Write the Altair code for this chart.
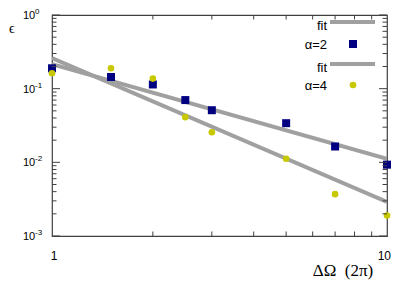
import altair as alt
import pandas as pd

# ---- data ----
omega = [1, 1.5, 2, 2.5, 3, 5, 7, 10]
eps_a2 = [0.189, 0.144, 0.114, 0.070, 0.051, 0.034, 0.0164, 0.0093]
eps_a4 = [0.162, 0.189, 0.137, 0.041, 0.0256, 0.0112, 0.0037, 0.0019]
fit_x = [1, 10]
fit_a2 = [0.215, 0.0112]
fit_a4 = [0.26, 0.0029]

y_major = [0.001, 0.01, 0.1, 1]
y_major_exp = ["-3", "-2", "-1", "0"]
y_minor = [m * d for d in [0.001, 0.01, 0.1] for m in range(2, 10)]
x_minor = [2, 3, 4, 5, 6, 7, 8, 9]
x_label_vals = [1, 10]
x_label_text = ["1", "10"]

W, H = 335, 221
TC = "#404040"
SANS = "Liberation Sans"
SERIF = "Liberation Serif"

xs = alt.Scale(type="log", domain=[1, 10], nice=False)
ys = alt.Scale(type="log", domain=[0.001, 1], nice=False)


def X(f="x"):
    return alt.X(f"{f}:Q", scale=xs, axis=None)


def Y(f="y"):
    return alt.Y(f"{f}:Q", scale=ys, axis=None)


fit_df = pd.DataFrame({
    "x": fit_x + fit_x,
    "y": fit_a2 + fit_a4,
    "s": ["a2"] * 2 + ["a4"] * 2,
})
a2_df = pd.DataFrame({"x": omega, "y": eps_a2})
a4_df = pd.DataFrame({"x": omega, "y": eps_a4})
ymaj_df = pd.DataFrame({"y": y_major, "e": y_major_exp})
ymin_df = pd.DataFrame({"y": y_minor})
xmin_df = pd.DataFrame({"x": x_minor})
xlab1_df = pd.DataFrame({"x": x_label_vals[:1], "t": x_label_text[:1]})
xlab2_df = pd.DataFrame({"x": x_label_vals[1:], "t": x_label_text[1:]})
one = alt.Data(values=[{"a": 1}])

fits = alt.Chart(fit_df).mark_line(color="#a0a0a0", strokeWidth=4, clip=True).encode(
    x=X(), y=Y(), detail="s:N")
sq = alt.Chart(a2_df).mark_square(color="#000080", size=64, opacity=1).encode(x=X(), y=Y())
ci = alt.Chart(a4_df).mark_circle(color="#c8c800", size=44, opacity=1).encode(x=X(), y=Y())

# ticks (inside, mirrored)
tl_maj = alt.Chart(ymaj_df).mark_rule(color=TC, strokeWidth=1).encode(
    y=Y(), x=alt.value(0), x2=alt.value(8))
tr_maj = alt.Chart(ymaj_df).mark_rule(color=TC, strokeWidth=1).encode(
    y=Y(), x=alt.value(W), x2=alt.value(W - 8))
tl_min = alt.Chart(ymin_df).mark_rule(color=TC, strokeWidth=1).encode(
    y=Y(), x=alt.value(0), x2=alt.value(4.5))
tr_min = alt.Chart(ymin_df).mark_rule(color=TC, strokeWidth=1).encode(
    y=Y(), x=alt.value(W), x2=alt.value(W - 4.5))
tb_min = alt.Chart(xmin_df).mark_rule(color=TC, strokeWidth=1).encode(
    x=X(), y=alt.value(H), y2=alt.value(H - 4.5))
tt_min = alt.Chart(xmin_df).mark_rule(color=TC, strokeWidth=1).encode(
    x=X(), y=alt.value(0), y2=alt.value(4.5))

# axis labels
ylab = alt.Chart(ymaj_df).mark_text(text="10", font=SANS, fontSize=11, align="left",
                                    baseline="middle", dy=1, color="#000").encode(
    y=Y(), x=alt.value(-29))
ysup = alt.Chart(ymaj_df).mark_text(font=SANS, fontSize=8, align="left",
                                    baseline="middle", dy=-3, color="#000").encode(
    y=Y(), x=alt.value(-17), text="e:N")
xlab1 = alt.Chart(xlab1_df).mark_text(font=SANS, fontSize=12, align="center", dx=2,
                                      baseline="middle", color="#000").encode(
    x=X(), y=alt.value(241), text="t:N")
xlab2 = alt.Chart(xlab2_df).mark_text(font=SANS, fontSize=12, align="right", dx=4,
                                      baseline="middle", color="#000").encode(
    x=X(), y=alt.value(241), text="t:N")

ytitle = alt.Chart(one).mark_text(text="ϵ", font=SERIF, fontSize=14, align="left",
                                  baseline="middle", color="#000").encode(
    x=alt.value(-43), y=alt.value(14))
xtitle = alt.Chart(one).mark_text(text="ΔΩ\u2002(2π)", font=SERIF, fontSize=17,
                                  align="center", baseline="middle", color="#000").encode(
    x=alt.value(291), y=alt.value(256))

# legend (gnuplot style: label left, sample right)
def ltext(t, y):
    return alt.Chart(one).mark_text(text=t, font=SANS, fontSize=13, align="right",
                                    baseline="middle", color="#000").encode(
        x=alt.value(275), y=alt.value(y))


leg = [
    ltext("fit", 11),
    alt.Chart(one).mark_rule(color="#a0a0a0", strokeWidth=4).encode(
        x=alt.value(278), x2=alt.value(323), y=alt.value(7)),
    ltext("α=2", 30),
    alt.Chart(one).mark_square(color="#000080", size=64, opacity=1).encode(
        x=alt.value(301), y=alt.value(29)),
    ltext("fit", 53),
    alt.Chart(one).mark_rule(color="#a0a0a0", strokeWidth=4).encode(
        x=alt.value(278), x2=alt.value(323), y=alt.value(49)),
    ltext("α=4", 71),
    alt.Chart(one).mark_circle(color="#c8c800", size=44, opacity=1).encode(
        x=alt.value(301), y=alt.value(70)),
]

chart = alt.layer(
    fits, sq, ci,
    tl_maj, tr_maj, tl_min, tr_min, tb_min, tt_min,
    ylab, ysup, xlab1, xlab2, ytitle, xtitle, *leg
).properties(
    width=W, height=H, autosize="none",
    padding={"left": 44, "top": 7, "right": 4, "bottom": 44},
    background="white",
).configure_view(stroke=TC, strokeWidth=1.2)

chart.save("out.html", embed_options={"renderer": "svg", "actions": False})
